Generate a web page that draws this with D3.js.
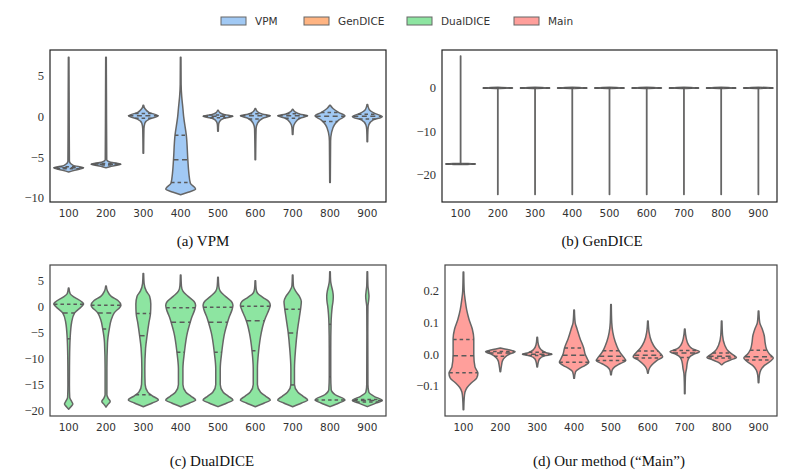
<!DOCTYPE html>
<html>
<head>
<meta charset="utf-8">
<style>
  body { margin: 0; background: #fff; }
  svg { display: block; }
</style>
<script src="https://cdn.jsdelivr.net/npm/d3@7"></script>
</head>
<body>
<div id="chart"></div>
<script>
// x categories shared by all four panels
var categories = ["100", "200", "300", "400", "500", "600", "700", "800", "900"];

var methods = ["VPM", "GenDICE", "DualDICE", "Main"];
var colors = ["#a1c9f4", "#ffb482", "#8de5a1", "#ff9f9b"];

// violin outlines: [value, relative half width]
var vpmProfiles = [
  [[7.3,0.02],[3,0.03],[-5.5,0.05],[-6.0,0.3],[-6.3,1.0],[-6.6,0.4],[-6.8,0]],
  [[7.3,0.02],[3,0.03],[-5.3,0.05],[-5.6,0.3],[-5.85,1.0],[-6.1,0.35],[-6.3,0]],
  [[1.4,0.02],[1.0,0.1],[0.5,0.4],[0.1,1.0],[-0.3,0.4],[-0.8,0.1],[-1.5,0.04],[-4.5,0.02]],
  [[7.3,0.02],[4,0.03],[2.5,0.07],[1,0.15],[0,0.2],[-2.3,0.38],[-5.3,0.48],[-7,0.55],[-8.2,0.65],[-8.9,1.0],[-9.3,0.5],[-9.6,0]],
  [[0.8,0.02],[0.5,0.12],[0.25,0.45],[0.05,1.0],[-0.2,0.4],[-0.6,0.1],[-1.0,0.04],[-1.8,0.02]],
  [[1.0,0.02],[0.6,0.15],[0.3,0.5],[0.1,1.0],[-0.2,0.5],[-0.8,0.15],[-1.5,0.05],[-5.3,0.02]],
  [[0.9,0.02],[0.6,0.15],[0.3,0.5],[0.1,1.0],[-0.2,0.5],[-0.8,0.15],[-1.3,0.05],[-2.2,0.02]],
  [[1.4,0.02],[1.0,0.2],[0.5,0.6],[0.1,1.0],[-0.4,0.6],[-1.0,0.3],[-2.0,0.1],[-3,0.04],[-8.1,0.02]],
  [[1.5,0.02],[0.9,0.12],[0.4,0.5],[0.0,1.0],[-0.4,0.4],[-1.0,0.1],[-1.6,0.04],[-3.1,0.02]]
];
var vpmQuartiles = [
  [-6.4,-6.3,-6.15],[-5.95,-5.85,-5.75],[-0.2,0.1,0.4],[-8.1,-5.3,-2.3],[-0.15,0.05,0.2],
  [-0.3,0.1,0.35],[-0.2,0.1,0.35],[-0.6,0.05,0.5],[-0.3,0.05,0.3]
];

var gendiceProfiles = [
  [[7.3,0.01],[-17.3,0.01],[-17.45,1.0],[-17.6,0]],
  [[0.15,0],[0,1.0],[-0.15,0.01],[-24.5,0.01]],
  [[0.15,0],[0,1.0],[-0.15,0.01],[-24.5,0.01]],
  [[0.15,0],[0,1.0],[-0.15,0.01],[-24.5,0.01]],
  [[0.15,0],[0,1.0],[-0.15,0.01],[-24.5,0.01]],
  [[0.15,0],[0,1.0],[-0.15,0.01],[-24.5,0.01]],
  [[0.15,0],[0,1.0],[-0.15,0.01],[-24.5,0.01]],
  [[0.15,0],[0,1.0],[-0.15,0.01],[-24.5,0.01]],
  [[0.15,0],[0,1.0],[-0.15,0.01],[-24.5,0.01]]
];
var gendiceQuartiles = [
  [-17.45,-17.45,-17.45],[0,0,0],[0,0,0],[0,0,0],[0,0,0],[0,0,0],[0,0,0],[0,0,0],[0,0,0]
];

var dualdiceProfiles = [
  [[3.6,0.02],[2.5,0.1],[1.8,0.4],[1.0,0.85],[0.5,1.0],[0,0.85],[-1.2,0.4],[-3,0.2],[-6,0.1],[-10,0.06],[-15,0.05],[-17.5,0.07],[-18.3,0.2],[-18.8,0.28],[-19.3,0.15],[-19.8,0]],
  [[4.0,0.02],[3,0.1],[2,0.35],[1.2,0.8],[0.3,1.0],[-1.2,0.55],[-2.5,0.35],[-4.3,0.22],[-7,0.1],[-12,0.06],[-17,0.06],[-17.7,0.15],[-18.3,0.28],[-18.9,0.12],[-19.4,0]],
  [[6.4,0.02],[4.5,0.05],[3,0.2],[2,0.42],[0.5,0.5],[-1.3,0.48],[-3,0.38],[-5.6,0.25],[-8,0.15],[-12,0.1],[-15,0.12],[-16.5,0.3],[-17.2,0.6],[-18,1.0],[-18.6,0.6],[-19.3,0]],
  [[6.1,0.02],[4,0.05],[3,0.15],[2,0.5],[1,0.9],[0.3,1.0],[-0.5,0.95],[-2,0.75],[-3.2,0.62],[-5,0.45],[-8.8,0.25],[-12,0.15],[-15,0.15],[-16.5,0.35],[-17.3,0.7],[-18,1.0],[-18.6,0.6],[-19.3,0]],
  [[5.7,0.02],[4,0.05],[3,0.15],[2,0.5],[1,0.9],[0.3,1.0],[-0.5,0.95],[-2,0.75],[-3.2,0.62],[-5,0.45],[-8.8,0.25],[-12,0.15],[-15,0.15],[-16.5,0.35],[-17.3,0.7],[-18,1.0],[-18.6,0.6],[-19.3,0]],
  [[5.0,0.02],[3.5,0.05],[2.6,0.15],[1.8,0.5],[1,0.9],[0.3,1.0],[-0.5,0.92],[-2,0.7],[-3.2,0.55],[-5,0.4],[-8.6,0.22],[-12,0.14],[-15,0.14],[-16.5,0.35],[-17.3,0.7],[-18,1.0],[-18.6,0.6],[-19.3,0]],
  [[6.1,0.02],[4,0.05],[3,0.2],[2,0.45],[1,0.58],[0,0.55],[-2,0.45],[-5,0.3],[-8,0.2],[-12,0.12],[-15,0.12],[-16.5,0.35],[-17.3,0.7],[-18,1.0],[-18.6,0.6],[-19.3,0]],
  [[6.75,0.02],[5,0.04],[4,0.1],[3,0.18],[2,0.22],[1,0.2],[0,0.15],[-1.5,0.1],[-3.3,0.07],[-8,0.05],[-13.5,0.05],[-16,0.08],[-17,0.35],[-18,1.0],[-18.6,0.6],[-19.3,0]],
  [[6.75,0.02],[4,0.04],[3,0.08],[2,0.11],[1,0.08],[0,0.04],[-5,0.03],[-15,0.04],[-16.5,0.1],[-17.3,0.45],[-18.1,1.0],[-18.7,0.5],[-19.3,0]]
];
var dualdiceQuartiles = [
  [-6.2,-1.2,0.45],[-4.3,-1.2,0.3],[-17,-5.6,-1.3],[-8.8,-3.0,-0.2],[-8.8,-3.0,-0.1],
  [-8.5,-2.7,0.1],[-15.1,-5.1,-0.5],[-18,-13.5,-3.4],[-18.4,-18.1,-17.9]
];

var mainProfiles = [
  [[0.26,0.02],[0.2,0.05],[0.17,0.12],[0.14,0.22],[0.11,0.38],[0.08,0.6],[0.05,0.7],[0.0,0.7],[-0.04,0.78],[-0.06,0.98],[-0.075,0.9],[-0.09,0.55],[-0.105,0.25],[-0.12,0.1],[-0.14,0.05],[-0.175,0.02]],
  [[0.02,0],[0.015,0.5],[0.008,1.0],[0.0,0.6],[-0.01,0.3],[-0.02,0.15],[-0.035,0.08],[-0.055,0.02]],
  [[0.054,0.02],[0.03,0.08],[0.015,0.25],[0.005,0.6],[0.0,1.0],[-0.005,0.5],[-0.015,0.15],[-0.03,0.05],[-0.04,0.02]],
  [[0.14,0.02],[0.1,0.07],[0.08,0.2],[0.05,0.4],[0.02,0.65],[0.0,0.75],[-0.015,0.9],[-0.025,1.0],[-0.035,0.75],[-0.045,0.35],[-0.055,0.1],[-0.076,0.02]],
  [[0.157,0.02],[0.1,0.05],[0.07,0.12],[0.04,0.28],[0.015,0.5],[0.0,0.7],[-0.015,0.95],[-0.02,1.0],[-0.03,0.6],[-0.04,0.25],[-0.05,0.08],[-0.065,0.02]],
  [[0.105,0.02],[0.07,0.08],[0.04,0.25],[0.02,0.5],[0.005,0.8],[-0.008,1.0],[-0.02,0.6],[-0.035,0.25],[-0.045,0.1],[-0.06,0.02]],
  [[0.08,0.02],[0.05,0.1],[0.03,0.25],[0.018,0.5],[0.008,1.0],[0.0,0.6],[-0.01,0.3],[-0.025,0.18],[-0.045,0.12],[-0.06,0.06],[-0.09,0.03],[-0.125,0.02]],
  [[0.105,0.02],[0.06,0.06],[0.03,0.2],[0.01,0.45],[-0.003,0.8],[-0.01,1.0],[-0.018,0.6],[-0.025,0.25],[-0.033,0.02]],
  [[0.137,0.02],[0.1,0.08],[0.08,0.25],[0.06,0.38],[0.035,0.45],[0.015,0.55],[0.0,0.75],[-0.012,1.0],[-0.022,0.8],[-0.035,0.4],[-0.05,0.15],[-0.065,0.06],[-0.09,0.02]]
];
var mainQuartiles = [
  [-0.058,-0.005,0.047],[-0.006,0.004,0.009],[-0.004,0.0,0.006],[-0.025,-0.003,0.02],[-0.02,-0.006,0.011],
  [-0.012,-0.003,0.01],[-0.01,0.004,0.012],[-0.012,-0.006,0.004],[-0.018,-0.008,0.013]
];

var vpmTicks = [-10, -5, 0, 5];
var gendiceTicks = [-20, -10, 0];
var dualdiceTicks = [-20, -15, -10, -5, 0, 5];
var mainTicks = [-0.1, 0.0, 0.1, 0.2];

var captions = ["(a) VPM", "(b) GenDICE", "(c) DualDICE", "(d) Our method (\u201cMain\u201d)"];

var W = 800, H = 475;
var svg = d3.select("#chart").append("svg").attr("width", W).attr("height", H);

var panels = [
  {x0: 50,  x1: 386, y0: 50,  y1: 202, dom: [-10.5, 8.2],   ticks: vpmTicks,      fmt: d3.format("d"),   prof: vpmProfiles,      q: vpmQuartiles,      color: colors[0], frame: "#222", cap: captions[0], capX: 203, capY: 246},
  {x0: 442, x1: 777, y0: 50,  y1: 202, dom: [-26.2, 8.7],   ticks: gendiceTicks,  fmt: d3.format("d"),   prof: gendiceProfiles,  q: gendiceQuartiles,  color: colors[1], frame: "#222", cap: captions[1], capX: 602, capY: 246},
  {x0: 50,  x1: 386, y0: 265, y1: 416, dom: [-21.1, 8.05],  ticks: dualdiceTicks, fmt: d3.format("d"),   prof: dualdiceProfiles, q: dualdiceQuartiles, color: colors[2], frame: "#444", cap: captions[2], capX: 212, capY: 466},
  {x0: 445, x1: 777, y0: 265, y1: 416, dom: [-0.195, 0.282],ticks: mainTicks,     fmt: d3.format(".1f"), prof: mainProfiles,     q: mainQuartiles,     color: colors[3], frame: "#444", cap: captions[3], capX: 609, capY: 466}
];

var outline = "#666";

function widthAt(profile, v) {
  for (var i = 0; i < profile.length - 1; i++) {
    var a = profile[i], b = profile[i + 1];
    if (v <= a[0] && v >= b[0]) {
      var t = (a[0] - v) / (a[0] - b[0] || 1);
      return a[1] + t * (b[1] - a[1]);
    }
  }
  return 0;
}

panels.forEach(function(p) {
  var g = svg.append("g");
  var x = d3.scaleBand().domain(categories).range([p.x0, p.x1]).paddingInner(0.2).paddingOuter(0.1);
  var y = d3.scaleLinear().domain(p.dom).range([p.y1, p.y0]);
  var hw = x.bandwidth() / 2;

  g.append("rect")
    .attr("x", p.x0).attr("y", p.y0)
    .attr("width", p.x1 - p.x0).attr("height", p.y1 - p.y0)
    .attr("fill", "#fff").attr("stroke", p.frame).attr("stroke-width", 1.2);

  categories.forEach(function(c, i) {
    var cx = x(c) + hw;
    var area = d3.area()
      .curve(d3.curveMonotoneY)
      .y(function(d) { return y(d[0]); })
      .x0(function(d) { return cx - d[1] * hw; })
      .x1(function(d) { return cx + d[1] * hw; });
    g.append("path")
      .datum(p.prof[i])
      .attr("d", area)
      .attr("fill", p.color)
      .attr("stroke", outline)
      .attr("stroke-width", 1.5)
      .attr("stroke-linejoin", "round");

    p.q[i].forEach(function(v, k) {
      var w = widthAt(p.prof[i], v) * hw;
      g.append("line")
        .attr("x1", cx - w).attr("x2", cx + w)
        .attr("y1", y(v)).attr("y2", y(v))
        .attr("stroke", "#5a5a5a")
        .attr("stroke-width", 1.5)
        .attr("stroke-dasharray", k == 1 ? "5,3.5" : "3.5,3");
    });
  });

  // y tick labels (serif, like the LaTeX ones)
  g.selectAll(".yt").data(p.ticks).enter().append("text")
    .attr("x", p.x0 - 6)
    .attr("y", function(d) { return y(d); })
    .attr("dy", "0.35em")
    .attr("text-anchor", "end")
    .attr("font-family", "'Liberation Serif', serif")
    .attr("font-size", 12.5)
    .attr("fill", "#333")
    .text(function(d) { return p.fmt(d); });

  // x tick labels
  g.selectAll(".xt").data(categories).enter().append("text")
    .attr("x", function(d) { return x(d) + hw; })
    .attr("y", p.y1 + 15)
    .attr("text-anchor", "middle")
    .attr("font-family", "'DejaVu Sans', sans-serif")
    .attr("font-size", 10.5)
    .attr("fill", "#333")
    .text(function(d) { return d; });

  svg.append("text")
    .attr("x", p.capX).attr("y", p.capY)
    .attr("text-anchor", "middle")
    .attr("font-family", "'Liberation Serif', serif")
    .attr("font-size", 15)
    .attr("fill", "#111")
    .text(p.cap);
});

// legend
var legendX = [221, 304, 407, 514];
var legend = svg.append("g");
methods.forEach(function(m, i) {
  legend.append("rect")
    .attr("x", legendX[i]).attr("y", 17)
    .attr("width", 25).attr("height", 8)
    .attr("fill", colors[i]).attr("stroke", "#666").attr("stroke-width", 1);
  legend.append("text")
    .attr("x", legendX[i] + 34).attr("y", 21)
    .attr("dy", "0.35em")
    .attr("font-family", "'DejaVu Sans', sans-serif")
    .attr("font-size", 10.5)
    .attr("fill", "#333")
    .text(m);
});
</script>
</body>
</html>
